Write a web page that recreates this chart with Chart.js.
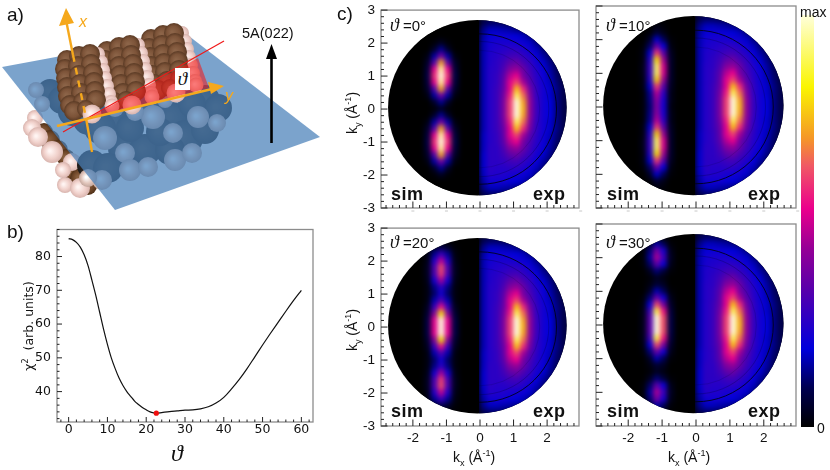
<!DOCTYPE html>
<html>
<head>
<meta charset="utf-8">
<script src="https://cdn.jsdelivr.net/npm/chart.js@4/dist/chart.umd.min.js"></script>
<style>
  html, body { margin: 0; padding: 0; background: #fff; }
  #page { position: relative; width: 830px; height: 470px; overflow: hidden; font-family: "Liberation Sans", sans-serif; color: #111; }
  canvas { position: absolute; }
  .t { position: absolute; white-space: nowrap; line-height: 1; }
  .letter { font-size: 19px; }
  .tag { font-weight: bold; font-size: 18px; letter-spacing: .5px; }
  .theta { font-family: "Liberation Serif", serif; font-style: italic; }
  .rot { transform: translate(-50%, -50%) rotate(-90deg); }
  sub, sup { font-size: 65%; line-height: 0; }
</style>
</head>
<body>
<div id="page">
  <canvas id="molecule"></canvas>
  <canvas id="chi"></canvas>
  <canvas id="map0"></canvas>
  <canvas id="map10"></canvas>
  <canvas id="map20"></canvas>
  <canvas id="map30"></canvas>
  <canvas id="colorbar"></canvas>

  <span class="t letter" style="left:7px;top:5px">a)</span>
  <span class="t letter" style="left:7px;top:222px">b)</span>
  <span class="t letter" style="left:337px;top:4px">c)</span>

  <span class="t" style="left:242px;top:26px;font-size:14.5px">5A(022)</span>
  <span class="t" style="left:79px;top:14px;font-size:16px;font-style:italic;color:#f5a81c">x</span>
  <span class="t" style="left:225px;top:88px;font-size:16px;font-style:italic;color:#f5a81c">y</span>
  <span class="t theta" style="left:175px;top:68px;width:15px;height:22px;background:#fff;font-size:19px;text-align:center;line-height:22px">ϑ</span>

  <span class="t rot" style="left:29px;top:326px;font-family:'DejaVu Sans';font-size:12.5px">χ<sup>2</sup>&nbsp; (arb. units)</span>
  <span class="t theta" style="left:171px;top:441px;font-size:24px">ϑ</span>

  <span class="t rot" style="left:352px;top:113px;font-size:14px">k<sub>y</sub> (Å<sup>-1</sup>)</span>
  <span class="t rot" style="left:352px;top:330px;font-size:14px">k<sub>y</sub> (Å<sup>-1</sup>)</span>
  <span class="t" style="left:453px;top:450px;font-size:14px">k<sub>x</sub> (Å<sup>-1</sup>)</span>
  <span class="t" style="left:668px;top:450px;font-size:14px">k<sub>x</sub> (Å<sup>-1</sup>)</span>

  <span class="t" style="left:390px;top:16px;font-size:15px"><span class="theta" style="font-size:18px">ϑ</span> =0°</span>
  <span class="t" style="left:606px;top:16px;font-size:15px"><span class="theta" style="font-size:18px">ϑ</span> =10°</span>
  <span class="t" style="left:390px;top:233px;font-size:15px"><span class="theta" style="font-size:18px">ϑ</span> =20°</span>
  <span class="t" style="left:606px;top:233px;font-size:15px"><span class="theta" style="font-size:18px">ϑ</span> =30°</span>

  <span class="t tag" style="left:391px;top:185px">sim</span>
  <span class="t tag" style="left:533px;top:185px">exp</span>
  <span class="t tag" style="left:607px;top:185px">sim</span>
  <span class="t tag" style="left:748px;top:185px">exp</span>
  <span class="t tag" style="left:391px;top:402px">sim</span>
  <span class="t tag" style="left:533px;top:402px">exp</span>
  <span class="t tag" style="left:607px;top:402px">sim</span>
  <span class="t tag" style="left:748px;top:402px">exp</span>

  <span class="t" style="left:800px;top:5px;font-size:14px">max</span>
  <span class="t" style="left:817px;top:421px;font-size:14px">0</span>
</div>

<script>
// panel b, chi2 versus angle
const chiAngles = [0, 1, 2, 3, 4, 5, 6, 7, 8, 9, 10, 11, 12, 13, 14, 15, 16, 17, 18, 19, 20, 21, 22, 22.6, 24, 26, 28, 30, 32, 34, 36, 38, 40, 42, 44, 46, 48, 50, 52, 54, 56, 58, 60];
const chiValues = [85.3, 85, 84.2, 82.8, 80.5, 77.3, 73, 68.5, 63.5, 58.5, 54, 50, 46.8, 44, 41.8, 40, 38.6, 37.2, 36.2, 35.3, 34.6, 34, 33.7, 33.6, 33.8, 34.1, 34.3, 34.5, 34.6, 34.9, 35.5, 36.6, 38.3, 40.8, 43.6, 46.8, 50.3, 53.8, 57.2, 60.5, 63.8, 67, 70];
const chiMinimum = [{ x: 22.6, y: 33.6 }];

// panel c, intensity maps in percent of max, one row per ky
const simKx = [-1.75, -1.55, -1.35, -1.15, -0.95, -0.75];
const simKy = [2.4, 2.2, 2, 1.8, 1.6, 1.4, 1.2, 1, 0.8, 0.6, 0.4, 0.2, 0, -0.2, -0.4, -0.6, -0.8, -1, -1.2, -1.4, -1.6, -1.8, -2, -2.2, -2.4];

const sim0 = [
  [0,0,0,0,0,0],[0,0,0,0,0,0],[0,0,1,4,1,0],[0,0,5,14,5,0],[0,2,15,38,15,2],[0,5,32,72,33,5],
  [0,7,52,95,53,7],[0,8,58,100,59,8],[0,7,52,95,53,7],[0,5,32,72,33,5],[0,2,15,38,15,2],[0,0,5,14,5,0],
  [0,0,1,4,1,0],
  [0,0,5,14,5,0],[0,2,15,38,15,2],[0,5,32,72,33,5],[0,7,52,95,53,7],[0,8,58,100,59,8],[0,7,52,95,53,7],
  [0,5,32,72,33,5],[0,2,15,38,15,2],[0,0,5,14,5,0],[0,0,1,4,1,0],[0,0,0,0,0,0],[0,0,0,0,0,0]
];
const sim10 = [
  [0,0,0,2,1,0],[0,0,1,6,3,0],[0,0,5,18,10,1],[0,1,11,36,20,2],[0,2,18,60,33,4],[0,2,24,80,44,5],
  [0,3,27,90,50,5],[0,3,27,90,50,5],[0,2,24,78,43,5],[0,2,18,60,33,4],[0,1,14,47,26,3],[0,1,13,42,23,3],
  [0,1,12,40,22,2],
  [0,1,13,42,23,3],[0,1,14,47,26,3],[0,2,18,60,33,4],[0,2,24,78,43,5],[0,3,27,90,50,5],[0,3,27,90,50,5],
  [0,2,24,80,44,5],[0,2,18,60,33,4],[0,1,11,36,20,2],[0,0,5,18,10,1],[0,0,1,6,3,0],[0,0,0,2,1,0]
];
const sim20 = [
  [0,1,5,9,5,1],[0,2,14,28,14,2],[0,3,24,48,24,3],[0,4,31,62,31,4],[0,4,30,60,30,4],[0,3,22,45,22,3],
  [0,2,13,26,13,2],[0,2,11,22,11,2],[0,2,16,32,16,2],[0,4,28,55,28,4],[0,6,40,80,40,6],[0,8,52,100,52,8],
  [0,8,52,100,52,8],
  [0,8,52,100,52,8],[0,6,40,80,40,6],[0,4,28,55,28,4],[0,2,16,32,16,2],[0,2,11,22,11,2],[0,2,13,26,13,2],
  [0,3,22,45,22,3],[0,4,30,60,30,4],[0,4,31,62,31,4],[0,3,24,48,24,3],[0,2,14,28,14,2],[0,1,5,9,5,1]
];
const sim30 = [
  [0,0,5,16,10,1],[0,1,12,38,23,3],[0,1,15,46,28,4],[0,1,11,34,21,3],[0,0,4,12,7,1],[0,0,1,4,2,0],
  [0,0,2,6,4,0],[0,0,5,16,10,1],[0,1,12,36,22,3],[0,2,20,62,38,5],[0,3,29,88,55,7],[0,3,33,100,62,8],
  [0,3,33,100,62,8],
  [0,3,33,100,62,8],[0,3,29,88,55,7],[0,2,20,62,38,5],[0,1,12,36,22,3],[0,0,5,16,10,1],[0,0,2,6,4,0],
  [0,0,1,4,2,0],[0,0,4,12,7,1],[0,1,11,34,21,3],[0,1,15,46,28,4],[0,1,12,38,23,3],[0,0,5,16,10,1]
];

const expKx = [0.1, 0.3, 0.5, 0.7, 0.9, 1.1, 1.3, 1.5, 1.7, 1.9, 2.1, 2.3, 2.5, 2.7, 2.9];
const expKy = [2.8, 2.6, 2.4, 2.2, 2, 1.8, 1.6, 1.4, 1.2, 1, 0.8, 0.6, 0.4, 0.2, 0, -0.2, -0.4, -0.6, -0.8, -1, -1.2, -1.4, -1.6, -1.8, -2, -2.2, -2.4, -2.6, -2.8];
const expMap = [
  [8,8,8,8,8,8,8,8,8,8,8,8,8,8,8],
  [9,11,11,10,9,8,7,7,7,7,7,7,7,7,7],
  [13,17,17,16,15,13,11,9,7,7,7,7,7,7,7],
  [15,20,21,21,20,19,17,13,10,8,7,7,7,7,7],
  [16,22,23,23,23,22,21,18,13,10,8,7,7,7,7],
  [16,23,24,25,26,26,24,21,17,12,9,7,7,7,7],
  [16,24,25,27,29,30,27,24,20,15,11,8,7,7,7],
  [16,24,26,29,34,36,31,27,22,18,13,9,7,7,7],
  [16,25,26,31,40,43,36,29,24,20,15,10,7,7,7],
  [16,25,27,33,47,53,38,31,25,21,16,11,8,7,7],
  [16,25,27,34,52,61,45,33,26,21,17,12,8,7,7],
  [16,25,28,35,52,76,58,37,27,22,18,13,9,7,7],
  [16,25,28,37,56,90,66,40,27,22,18,13,9,7,7],
  [16,25,28,38,60,100,72,42,28,22,19,13,9,7,7],
  [16,25,28,38,60,100,74,42,28,22,19,13,9,7,7],
  [16,25,28,38,60,100,72,42,28,22,19,13,9,7,7],
  [16,25,28,37,56,90,66,40,27,22,18,13,9,7,7],
  [16,25,28,35,52,76,58,37,27,22,18,13,9,7,7],
  [17,25,27,34,52,61,45,33,26,21,17,12,8,7,7],
  [17,25,27,33,47,53,38,31,25,21,16,11,8,7,7],
  [17,26,26,31,40,43,36,29,24,20,15,10,7,7,7],
  [18,26,26,29,34,36,31,27,22,18,13,9,7,7,7],
  [18,26,26,27,29,30,27,24,20,15,11,8,7,7,7],
  [18,26,25,25,26,26,24,21,17,12,9,7,7,7,7],
  [17,25,24,24,23,22,21,18,13,10,8,7,7,7,7],
  [15,22,22,22,20,19,17,13,10,8,7,7,7,7,7],
  [13,17,17,16,15,13,11,9,7,7,7,7,7,7,7],
  [9,11,11,10,9,8,7,7,7,7,7,7,7,7,7],
  [8,8,8,8,8,8,8,8,8,8,8,8,8,8,8]
];

// colour scale
const colorStops = [
  [0, [0, 0, 0]], [0.095, [0, 0, 80]], [0.19, [0, 0, 220]], [0.337, [90, 0, 170]], [0.434, [150, 0, 150]],
  [0.53, [235, 0, 140]], [0.635, [240, 90, 100]], [0.7, [245, 150, 40]], [0.825, [250, 245, 0]], [1, [255, 255, 220]]
];
const colorbarLabels = ['intensity'];
const colorbarRange = [[0, 100]];

// panel a, picture coordinates [x, y, r]
const planeCorners = [[2, 67], [185, 33], [320, 137], [115, 210]];
const lowerBodies = [
  [50, 92, 13], [62, 100, 14], [72, 112, 14], [88, 120, 15], [112, 122, 18], [100, 128, 16],
  [160, 108, 15], [148, 108, 14], [172, 118, 16], [205, 100, 15], [218, 108, 14], [192, 104, 14],
  [126, 148, 18], [145, 150, 16], [185, 138, 18], [170, 150, 15], [205, 130, 14], [92, 165, 15], [108, 168, 15],
  [130, 128, 14], [160, 132, 14]
];
const lowerHydrogens = [
  [36, 90, 8], [42, 104, 8], [105, 138, 12], [125, 153, 10], [153, 117, 12], [173, 133, 10], [198, 117, 11], [217, 123, 9],
  [130, 170, 11], [148, 167, 10], [175, 160, 11], [192, 153, 10], [102, 180, 10], [88, 178, 9], [115, 108, 9], [135, 112, 9], [165, 100, 8]
];
const leftBodies = [[44, 132, 9], [50, 140, 10], [58, 150, 10], [66, 158, 9], [72, 172, 9], [80, 178, 10], [88, 186, 9]];
const leftHydrogens = [[35, 118, 8], [32, 128, 9], [38, 137, 10], [52, 152, 11], [72, 162, 9], [63, 170, 8], [65, 185, 8], [80, 188, 10]];
const brownBase = [
  [67, 60, 10], [79, 56, 10], [90, 54, 10], [65, 69, 10], [78, 66, 10], [91, 64, 10], [66, 78, 10], [79, 75, 10], [93, 73, 10],
  [67, 87, 10], [80, 84, 10], [94, 82, 10], [68, 96, 10], [81, 93, 10], [95, 91, 10], [70, 105, 10], [83, 102, 10], [96, 100, 10], [74, 111, 10], [86, 109, 9]
];
const pinkBase = [[98, 54, 7], [101, 62, 7], [103, 70, 7], [105, 78, 7], [107, 86, 7], [109, 94, 7], [111, 102, 7]];
const pinkEnds = [[112, 106, 7.5], [92, 114, 9.5]];
const stripeOffsets = [[0, 0], [40, -9], [84, -21]];
const wedgeCorners = [[87, 119], [198, 58], [209, 88]];
const redLine = [[63, 132], [224, 41]];
const xAxisLow = [[86, 118], [92, 152]];
const xAxisHigh = [[66, 20], [73, 55]];
const xAxisDashed = [[73, 55], [86, 118]];
const xAxisHead = [[66, 8], [59, 26], [74, 23]];
const yAxisLine = [[57, 126], [212, 89]];
const yAxisHead = [[224, 86], [208, 82], [211, 94]];
const beamLine = [[271.5, 143], [271.5, 58]];
const beamHead = [[271.5, 44], [266, 59], [277, 59]];

Chart.defaults.animation = false;
Chart.defaults.events = [];
Chart.defaults.layout.autoPadding = false;
Chart.defaults.plugins.legend.display = false;
Chart.defaults.plugins.tooltip.enabled = false;

function colorAt(v) {
  const f = Math.min(Math.max(v / 100, 0), 1);
  let i = 1;
  while (i < colorStops.length - 1 && colorStops[i][0] < f) i++;
  const a = colorStops[i - 1], b = colorStops[i];
  const k = (f - a[0]) / (b[0] - a[0]);
  const c = a[1].map((n, j) => Math.round(n + (b[1][j] - n) * k));
  return `rgb(${c[0]},${c[1]},${c[2]})`;
}

// put a canvas so that its chart area falls on the given box
function placeCanvas(id, box, leftSpace, bottomSpace) {
  const el = document.getElementById(id);
  el.width = box.right - box.left + leftSpace + 10;
  el.height = box.bottom - box.top + bottomSpace + 10;
  el.style.left = (box.left - leftSpace) + 'px';
  el.style.top = (box.top - 10) + 'px';
  return el;
}

// grey frame with the inward ticks, these are not possible with the axis options alone
const frameTicks = {
  id: 'frameTicks',
  afterDraw(chart, args, o) {
    const { ctx, chartArea: a, scales } = chart;
    ctx.save();
    ctx.strokeStyle = '#8c8c8c';
    ctx.lineWidth = 1.3;
    ctx.strokeRect(a.left, a.top, a.right - a.left, a.bottom - a.top);
    ctx.strokeStyle = '#222';
    ctx.lineWidth = 1;
    const mark = (v, axis, len) => {
      ctx.beginPath();
      if (axis === 'x') {
        const p = scales.x.getPixelForValue(v);
        ctx.moveTo(p, a.bottom);
        ctx.lineTo(p, a.bottom - len);
      } else {
        const p = scales.y.getPixelForValue(v);
        ctx.moveTo(a.left, p);
        ctx.lineTo(a.left + len, p);
      }
      ctx.stroke();
    };
    ['x', 'y'].forEach(axis => {
      const s = scales[axis];
      const step = o.major / 5;
      for (let i = Math.ceil(s.min / step); i * step <= s.max + 1e-9; i++) {
        mark(i * step, axis, i % 5 === 0 ? o.majorLen : o.minorLen);
      }
    });
    if (o.stubs) {
      ctx.strokeStyle = '#c8c8c8';
      for (let v = -2; v <= 3; v++) {
        const p = scales.x.getPixelForValue(v);
        ctx.beginPath();
        ctx.moveTo(p - 1.5, a.bottom + 3);
        ctx.lineTo(p + 1.5, a.bottom + 3);
        ctx.stroke();
      }
    }
    ctx.restore();
  }
};

// takes the cells drawn by the scatter controller and smooths them inside the detector disc
const detectorDisc = {
  id: 'detectorDisc',
  afterDatasetsDraw(chart) {
    const { ctx, canvas, chartArea: a, scales: { x, y } } = chart;
    const cx = x.getPixelForValue(-0.08), cy = y.getPixelForValue(0.04);
    const rx = x.getPixelForValue(2.58) - cx, ry = cy - y.getPixelForValue(2.7);
    const split = x.getPixelForValue(-0.03);
    const snap = document.createElement('canvas');
    snap.width = canvas.width;
    snap.height = canvas.height;
    snap.getContext('2d').drawImage(canvas, 0, 0);
    const dpr = chart.currentDevicePixelRatio;

    ctx.save();
    ctx.clearRect(a.left, a.top, a.right - a.left, a.bottom - a.top);
    ctx.beginPath();
    ctx.ellipse(cx, cy, rx, ry, 0, 0, Math.PI * 2);
    ctx.fillStyle = '#000';
    ctx.fill();
    ctx.clip();
    const part = (from, to) => {
      ctx.save();
      ctx.beginPath();
      ctx.rect(from, a.top, to - from, a.bottom - a.top);
      ctx.clip();
      ctx.filter = 'blur(2.5px)';
      ctx.drawImage(snap, from * dpr, a.top * dpr, (to - from) * dpr, (a.bottom - a.top) * dpr, from, a.top, to - from, a.bottom - a.top);
      ctx.restore();
    };
    part(a.left, split);
    part(split, a.right);
    // the dark rings of the analyser on the exp side
    ctx.beginPath();
    ctx.rect(split, a.top, a.right - split, a.bottom - a.top);
    ctx.clip();
    [[2.28, 'rgba(0,0,20,.85)'], [2.05, 'rgba(0,0,40,.25)'], [1.78, 'rgba(0,0,40,.15)']].forEach(([r, col]) => {
      ctx.beginPath();
      ctx.ellipse(x.getPixelForValue(0), y.getPixelForValue(0), r * (x.getPixelForValue(1) - x.getPixelForValue(0)), r * (y.getPixelForValue(0) - y.getPixelForValue(1)), 0, 0, Math.PI * 2);
      ctx.strokeStyle = col;
      ctx.lineWidth = 1;
      ctx.stroke();
    });
    ctx.restore();
  }
};

function cellsOf(kxs, kys, grid) {
  const cells = [];
  kys.forEach((ky, r) => kxs.forEach((kx, c) => cells.push({ x: kx, y: ky, v: grid[r][c] })));
  return cells;
}

function makeMap(id, box, grid, showX, showY) {
  const el = placeCanvas(id, box, 40, 30);
  return new Chart(el, {
    type: 'scatter',
    data: {
      datasets: [
        { data: cellsOf(simKx, simKy, grid) },
        { data: cellsOf(expKx, expKy, expMap) }
      ]
    },
    options: {
      responsive: false,
      layout: { padding: { top: 10, right: 10 } },
      elements: {
        point: {
          pointStyle: 'rect',
          radius: 5.2,
          borderWidth: 0,
          backgroundColor: c => colorAt(c.raw ? c.raw.v : 0)
        }
      },
      scales: {
        x: {
          min: -2.95, max: 2.95,
          grid: { display: false, drawTicks: false }, border: { display: false },
          afterFit: s => { s.height = 30; },
          ticks: { display: showX, stepSize: 1, includeBounds: false, maxRotation: 0, padding: 4, color: '#111', font: { family: 'Liberation Sans', size: 13.5 } }
        },
        y: {
          min: -3, max: 3,
          grid: { display: false, drawTicks: false }, border: { display: false },
          afterFit: s => { s.width = 40; },
          ticks: { display: showY, stepSize: 1, padding: 6, color: '#111', font: { family: 'Liberation Sans', size: 13.5 } }
        }
      },
      plugins: { frameTicks: { major: 1, majorLen: 6.5, minorLen: 3, stubs: !showX } }
    },
    plugins: [detectorDisc, frameTicks]
  });
}

makeMap('map0', { left: 381, right: 579, top: 6, bottom: 208 }, sim0, false, true);
makeMap('map10', { left: 596, right: 796, top: 6, bottom: 208 }, sim10, false, false);
makeMap('map20', { left: 381, right: 579, top: 224, bottom: 426 }, sim20, true, true);
makeMap('map30', { left: 596, right: 796, top: 224, bottom: 426 }, sim30, true, false);

// panel b
new Chart(placeCanvas('chi', { left: 57, right: 313, top: 226, bottom: 422 }, 40, 30), {
  type: 'line',
  data: {
    labels: chiAngles,
    datasets: [
      { data: chiMinimum, type: 'scatter', pointRadius: 2.6, pointBackgroundColor: '#f01010', pointBorderWidth: 0 },
      { data: chiAngles.map((a, i) => ({ x: a, y: chiValues[i] })), borderColor: '#111', borderWidth: 1.2, pointRadius: 0, cubicInterpolationMode: 'monotone' }
    ]
  },
  options: {
    responsive: false,
    layout: { padding: { top: 10, right: 10 } },
    scales: {
      x: {
        type: 'linear', min: -3, max: 63,
        grid: { display: false, drawTicks: false }, border: { display: false },
        afterFit: s => { s.height = 30; },
        ticks: { stepSize: 10, includeBounds: false, maxRotation: 0, padding: 0, color: '#111', font: { family: 'DejaVu Sans', size: 12.5 } }
      },
      y: {
        min: 31, max: 88,
        grid: { display: false, drawTicks: false }, border: { display: false },
        afterFit: s => { s.width = 40; },
        ticks: { stepSize: 10, includeBounds: false, padding: 6, color: '#111', font: { family: 'DejaVu Sans', size: 12.5 } }
      }
    },
    plugins: { frameTicks: { major: 10, majorLen: 5, minorLen: 2.5 } }
  },
  plugins: [frameTicks]
});

// colour bar
const barEl = document.getElementById('colorbar');
barEl.width = 13;
barEl.height = 412;
barEl.style.left = '801px';
barEl.style.top = '15px';
new Chart(barEl, {
  type: 'bar',
  data: {
    labels: colorbarLabels,
    datasets: [{
      data: colorbarRange,
      categoryPercentage: 1,
      barPercentage: 1,
      backgroundColor: c => {
        const a = c.chart.chartArea;
        if (!a) return '#000';
        const g = c.chart.ctx.createLinearGradient(0, a.bottom, 0, a.top);
        colorStops.forEach(([f, rgb]) => g.addColorStop(f, `rgb(${rgb.join(',')})`));
        return g;
      }
    }]
  },
  options: {
    responsive: false,
    scales: { x: { display: false }, y: { display: false, min: 0, max: 100 } }
  }
});

// panel a, spheres as bubbles on a hidden picture-sized scale
function sphereColor(base, light, rim) {
  return c => {
    const { chart, raw } = c;
    if (!raw || !chart.chartArea) return base;
    const px = chart.scales.x.getPixelForValue(raw.x), py = chart.scales.y.getPixelForValue(raw.y);
    const g = chart.ctx.createRadialGradient(px - raw.r * 0.2, py - raw.r * 0.1, raw.r * 0.1, px, py, raw.r);
    g.addColorStop(0, light);
    g.addColorStop(0.6, base);
    g.addColorStop(1, rim);
    return g;
  };
}
const asBubbles = list => list.map(([x, y, r]) => ({ x, y, r }));
const asPoints = list => list.map(([x, y]) => ({ x, y }));
const shifted = (list, [dx, dy]) => list.map(([x, y, r]) => [x + dx, y + dy, r]);

const spheres = (list, base, light, rim) => ({ type: 'bubble', data: asBubbles(list), backgroundColor: sphereColor(base, light, rim), borderWidth: 0 });
const polygon = (list, color) => ({ type: 'line', data: asPoints(list), fill: 'shape', backgroundColor: color, borderWidth: 0, pointRadius: 0 });
const stroke = (list, color, width, dash) => ({ type: 'line', data: asPoints(list), borderColor: color, borderWidth: width, borderDash: dash || [], pointRadius: 0, fill: false });

const ORANGE = '#f5a81c';
const layers = [
  spheres(leftBodies, '#6e4628', '#8a6040', '#4e3018'),
  spheres(leftHydrogens, '#f0d0ca', '#fff4f2', '#d8b4ae'),
  spheres(lowerBodies, '#2a2624', '#3c342e', '#1e1a18'),
  spheres(lowerHydrogens, '#e2c6bc', '#ffffff', '#c2a69c'),
  polygon(planeCorners, 'rgba(72,128,184,.72)')
];
stripeOffsets.slice().reverse().forEach(off => {
  layers.push(spheres(shifted(pinkBase, off), '#eecdc7', '#fbeae7', '#d8b4ae'));
  layers.push(spheres(shifted(brownBase, off), '#7c5338', '#8c6448', '#5a3a24'));
  layers.push(spheres(shifted(pinkEnds, off), '#f0d0ca', '#fff4f2', '#d8b4ae'));
});
layers.push(
  polygon(wedgeCorners, 'rgba(245,20,20,.55)'),
  stroke(redLine, '#f01818', 1.2),
  stroke(xAxisLow, ORANGE, 2.4),
  stroke(xAxisHigh, ORANGE, 2.4),
  stroke(xAxisDashed, ORANGE, 2.4, [7, 6]),
  stroke(yAxisLine, ORANGE, 2.4),
  polygon(xAxisHead, ORANGE),
  polygon(yAxisHead, ORANGE),
  stroke(beamLine, '#000', 2.6),
  polygon(beamHead, '#000')
);
layers.forEach((d, i) => { d.order = layers.length - i; });

const molEl = document.getElementById('molecule');
molEl.width = 330;
molEl.height = 215;
new Chart(molEl, {
  type: 'bubble',
  data: { datasets: layers },
  options: {
    responsive: false,
    scales: { x: { display: false, min: 0, max: 330 }, y: { display: false, min: 0, max: 215, reverse: true } }
  }
});
</script>
</body>
</html>
